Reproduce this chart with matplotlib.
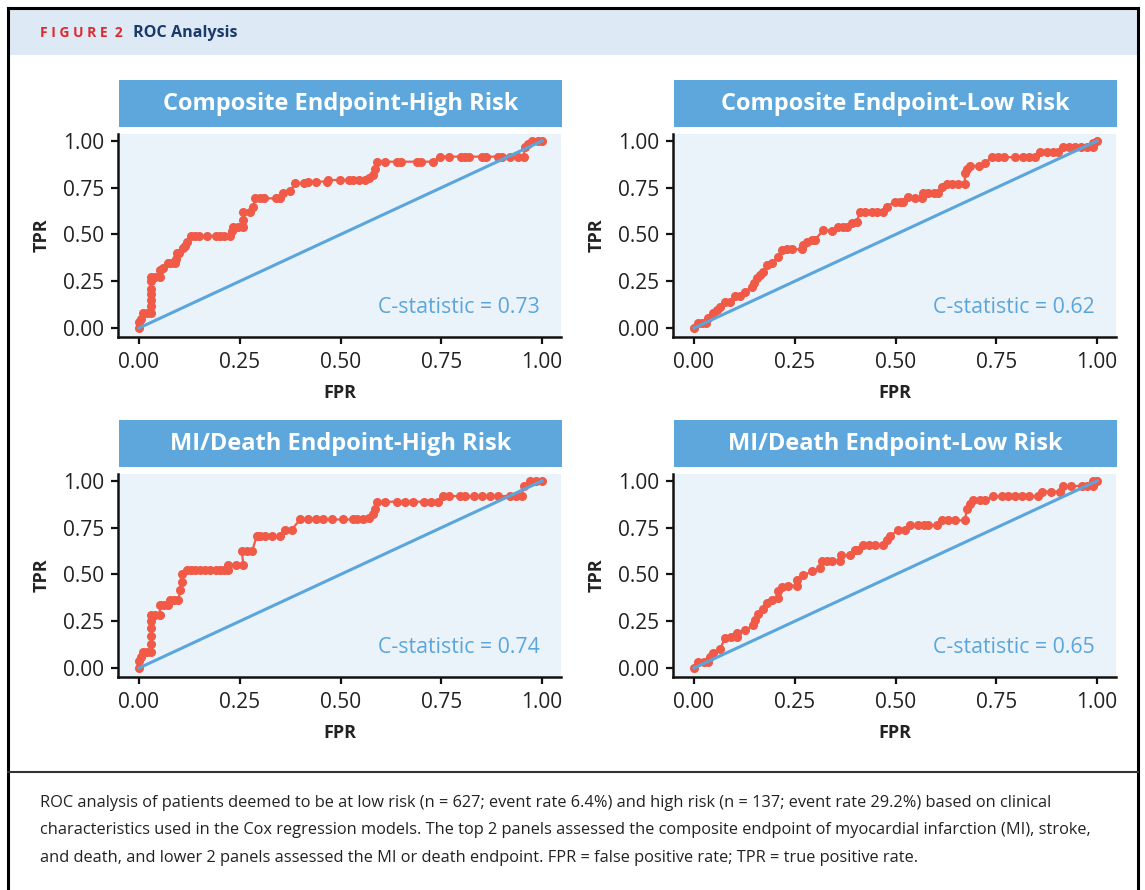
import matplotlib
matplotlib.use("Agg")
import matplotlib.pyplot as plt
from matplotlib.patches import Rectangle
from matplotlib.lines import Line2D

# ---------------- data ----------------
titles = ["Composite Endpoint-High Risk", "Composite Endpoint-Low Risk",
          "MI/Death Endpoint-High Risk", "MI/Death Endpoint-Low Risk"]
c_stats = ["C-statistic = 0.73", "C-statistic = 0.62",
           "C-statistic = 0.74", "C-statistic = 0.65"]
ticks = [0.0, 0.25, 0.5, 0.75, 1.0]
tick_labels = ["0.00", "0.25", "0.50", "0.75", "1.00"]

fpr_comp_high = [0, 0, 0.005, 0.011, 0.02, 0.031, 0.031, 0.031, 0.031, 0.031, 0.031, 0.031,
                 0.04, 0.052, 0.052, 0.06, 0.073, 0.08, 0.09, 0.093, 0.095, 0.10, 0.11, 0.115,
                 0.118, 0.13, 0.14, 0.15, 0.17, 0.19, 0.20, 0.21, 0.226, 0.23, 0.234, 0.245,
                 0.259, 0.259, 0.259, 0.275, 0.284, 0.288, 0.30, 0.31, 0.34, 0.35, 0.358, 0.375,
                 0.387, 0.41, 0.42, 0.44, 0.466, 0.47, 0.499, 0.52, 0.53, 0.545, 0.561, 0.57,
                 0.581, 0.585, 0.59, 0.61, 0.64, 0.65, 0.69, 0.70, 0.73, 0.747, 0.77, 0.80,
                 0.81, 0.82, 0.85, 0.86, 0.89, 0.90, 0.92, 0.94, 0.954, 0.958, 0.965, 0.974,
                 0.99, 1.0]
tpr_comp_high = [0, 0.034, 0.05, 0.078, 0.078, 0.078, 0.12, 0.15, 0.18, 0.21, 0.25, 0.275,
                 0.275, 0.275, 0.31, 0.32, 0.346, 0.346, 0.346, 0.37, 0.40, 0.40, 0.426, 0.44,
                 0.46, 0.492, 0.492, 0.492, 0.492, 0.492, 0.492, 0.492, 0.492, 0.52, 0.542, 0.542,
                 0.542, 0.58, 0.622, 0.622, 0.649, 0.693, 0.693, 0.693, 0.693, 0.693, 0.724, 0.73,
                 0.774, 0.774, 0.783, 0.783, 0.783, 0.791, 0.791, 0.791, 0.791, 0.791, 0.791, 0.80,
                 0.818, 0.85, 0.889, 0.889, 0.889, 0.889, 0.889, 0.889, 0.889, 0.916, 0.916, 0.916,
                 0.916, 0.916, 0.916, 0.916, 0.916, 0.916, 0.916, 0.916, 0.916, 0.97, 0.985, 1.0,
                 1.0, 1.0]

fpr_comp_low = [0, 0.011, 0.02, 0.031, 0.036, 0.048, 0.057, 0.065, 0.077, 0.09, 0.102, 0.115,
                0.127, 0.143, 0.15, 0.156, 0.165, 0.172, 0.18, 0.193, 0.209, 0.218, 0.23, 0.242,
                0.267, 0.271, 0.28, 0.292, 0.30, 0.321, 0.342, 0.358, 0.37, 0.379, 0.391, 0.404,
                0.412, 0.425, 0.441, 0.455, 0.47, 0.478, 0.499, 0.51, 0.519, 0.532, 0.548, 0.565,
                0.569, 0.58, 0.595, 0.606, 0.615, 0.627, 0.64, 0.655, 0.672, 0.672, 0.678, 0.685,
                0.706, 0.722, 0.739, 0.755, 0.77, 0.796, 0.817, 0.83, 0.846, 0.859, 0.875, 0.89,
                0.904, 0.916, 0.93, 0.945, 0.96, 0.975, 0.991, 0.991, 1.0]
tpr_comp_low = [0, 0.025, 0.025, 0.025, 0.052, 0.078, 0.095, 0.114, 0.141, 0.141, 0.171, 0.171,
                0.194, 0.221, 0.24, 0.266, 0.285, 0.301, 0.337, 0.346, 0.381, 0.417, 0.421, 0.421,
                0.421, 0.444, 0.46, 0.471, 0.471, 0.524, 0.52, 0.542, 0.542, 0.542, 0.56, 0.569,
                0.622, 0.622, 0.622, 0.622, 0.622, 0.649, 0.676, 0.676, 0.676, 0.702, 0.693, 0.693,
                0.724, 0.724, 0.724, 0.724, 0.756, 0.77, 0.77, 0.77, 0.77, 0.827, 0.85, 0.866,
                0.866, 0.881, 0.913, 0.913, 0.913, 0.913, 0.913, 0.913, 0.913, 0.943, 0.943, 0.943,
                0.943, 0.966, 0.966, 0.966, 0.966, 0.966, 0.966, 0.991, 1.0]

fpr_mi_high = [0, 0, 0.005, 0.011, 0.02, 0.031, 0.031, 0.031, 0.031, 0.031, 0.031, 0.04,
               0.052, 0.052, 0.062, 0.073, 0.077, 0.088, 0.098, 0.102, 0.106, 0.106, 0.118, 0.13,
               0.14, 0.151, 0.165, 0.176, 0.19, 0.20, 0.21, 0.222, 0.222, 0.24, 0.259, 0.255,
               0.268, 0.281, 0.292, 0.30, 0.313, 0.33, 0.35, 0.362, 0.379, 0.40, 0.42, 0.44,
               0.457, 0.48, 0.506, 0.53, 0.54, 0.557, 0.57, 0.581, 0.585, 0.59, 0.61, 0.639,
               0.66, 0.68, 0.706, 0.725, 0.743, 0.755, 0.77, 0.796, 0.81, 0.83, 0.85, 0.87,
               0.89, 0.921, 0.935, 0.95, 0.954, 0.97, 0.985, 1.0]
tpr_mi_high = [0, 0.036, 0.06, 0.086, 0.086, 0.086, 0.13, 0.17, 0.215, 0.25, 0.283, 0.283,
               0.283, 0.337, 0.337, 0.337, 0.364, 0.364, 0.364, 0.418, 0.462, 0.502, 0.525, 0.525,
               0.525, 0.525, 0.525, 0.525, 0.525, 0.525, 0.525, 0.525, 0.552, 0.552, 0.552, 0.627,
               0.627, 0.627, 0.704, 0.704, 0.704, 0.704, 0.704, 0.74, 0.74, 0.794, 0.794, 0.794,
               0.794, 0.794, 0.794, 0.794, 0.794, 0.794, 0.80, 0.821, 0.85, 0.889, 0.889, 0.889,
               0.889, 0.889, 0.889, 0.889, 0.889, 0.919, 0.919, 0.919, 0.919, 0.919, 0.919, 0.919,
               0.919, 0.919, 0.919, 0.919, 0.973, 1.0, 1.0, 1.0]

fpr_mi_low = [0, 0.011, 0.025, 0.036, 0.04, 0.048, 0.065, 0.077, 0.093, 0.106, 0.106, 0.127,
              0.147, 0.151, 0.16, 0.172, 0.18, 0.193, 0.209, 0.209, 0.218, 0.234, 0.255, 0.255,
              0.271, 0.292, 0.313, 0.317, 0.33, 0.342, 0.362, 0.366, 0.387, 0.40, 0.408, 0.42,
              0.435, 0.449, 0.47, 0.478, 0.486, 0.507, 0.524, 0.536, 0.557, 0.57, 0.581, 0.602,
              0.615, 0.63, 0.648, 0.672, 0.677, 0.685, 0.693, 0.71, 0.722, 0.743, 0.763, 0.78,
              0.796, 0.815, 0.83, 0.854, 0.863, 0.885, 0.908, 0.916, 0.935, 0.962, 0.975, 0.991,
              0.991, 1.0]
tpr_mi_low = [0, 0.032, 0.032, 0.032, 0.059, 0.082, 0.104, 0.158, 0.167, 0.167, 0.185, 0.203,
              0.229, 0.256, 0.287, 0.315, 0.346, 0.364, 0.373, 0.409, 0.435, 0.441, 0.441, 0.471,
              0.495, 0.516, 0.534, 0.57, 0.573, 0.573, 0.573, 0.602, 0.602, 0.633, 0.633, 0.656,
              0.656, 0.656, 0.656, 0.686, 0.704, 0.74, 0.74, 0.763, 0.763, 0.763, 0.763, 0.763,
              0.789, 0.789, 0.789, 0.789, 0.848, 0.878, 0.896, 0.896, 0.896, 0.919, 0.919, 0.919,
              0.919, 0.919, 0.919, 0.919, 0.943, 0.943, 0.943, 0.973, 0.973, 0.973, 0.973, 0.973,
              1.0, 1.0]

curves = [(fpr_comp_high, tpr_comp_high), (fpr_comp_low, tpr_comp_low),
          (fpr_mi_high, tpr_mi_high), (fpr_mi_low, tpr_mi_low)]

caption_lines = [
    "ROC analysis of patients deemed to be at low risk (n = 627; event rate 6.4%) and high risk (n = 137; event rate 29.2%) based on clinical",
    "characteristics used in the Cox regression models. The top 2 panels assessed the composite endpoint of myocardial infarction (MI), stroke,",
    "and death, and lower 2 panels assessed the MI or death endpoint. FPR = false positive rate; TPR = true positive rate.",
]

# ---------------- styling ----------------
FONT = "Open Sans"
plt.rcParams["font.family"] = [FONT, "DejaVu Sans"]
RED = "#f05a46"
BLUE = "#5aa6dc"
BOXBLUE = "#5ea7dc"
AXBG = "#eaf2fa"
TXT = "#222222"

W, H = 1145, 890
fig = plt.figure(figsize=(W / 100, H / 100), dpi=100)
fig.patch.set_facecolor("white")

def fx(px):
    return px / W

def fy(py):
    return 1 - py / H

# header band and frame
fig.add_artist(Rectangle((fx(8), fy(55)), fx(1130), 47 / H, transform=fig.transFigure,
                         facecolor="#dde9f5", edgecolor="none", zorder=0))
for (x0, y0, x1, y1) in [(8, 8, 8, 890), (1138, 8, 1138, 890), (8, 8, 1138, 8)]:
    fig.add_artist(Line2D([fx(x0), fx(x1)], [fy(y0), fy(y1)], transform=fig.transFigure,
                          color="black", lw=2.2))
fig.add_artist(Line2D([fx(8), fx(1138)], [fy(772), fy(772)], transform=fig.transFigure,
                      color="#333333", lw=1.5))

fig.text(fx(40), fy(33), "F I G U R E  2", color="#e0282e", fontsize=10, fontweight="bold",
         va="center", ha="left")
fig.text(fx(133), fy(33), "ROC Analysis", color="#1a3a6b", fontsize=11.6, fontweight="bold",
         va="center", ha="left")

# panels
lefts = [118, 673]
tops = [134, 474]
title_tops = [80, 420]
axw, axh = 443, 203

for i, (title, cs, (fp, tp)) in enumerate(zip(titles, c_stats, curves)):
    r, c = divmod(i, 2)
    L = lefts[c]
    T = tops[r]
    # title box
    fig.add_artist(Rectangle((fx(L + 1), fy(title_tops[r] + 47)), axw / W, 47 / H,
                             transform=fig.transFigure, facecolor=BOXBLUE, edgecolor="none"))
    fig.text(fx(L + 1 + axw / 2), fy(title_tops[r] + 23.5), title, color="white",
             fontsize=17, fontweight="bold", ha="center", va="center")

    ax = fig.add_axes([fx(L), fy(T + axh), axw / W, axh / H])
    ax.set_facecolor(AXBG)
    ax.plot(fp, tp, "-o", color=RED, lw=1.6, ms=5.5, zorder=2)
    ax.plot([0, 1], [0, 1], color=BLUE, lw=2.2, zorder=3)
    ax.set_xlim(-0.052, 1.047)
    ax.set_ylim(-0.048, 1.037)
    ax.set_xticks(ticks)
    ax.set_xticklabels(tick_labels)
    ax.set_yticks(ticks)
    ax.set_yticklabels(tick_labels)
    for s in ["top", "right"]:
        ax.spines[s].set_visible(False)
    for s in ["left", "bottom"]:
        ax.spines[s].set_linewidth(1.8)
        ax.spines[s].set_color("#111111")
    ax.tick_params(axis="both", length=5, width=1.6, color="#111111", labelsize=15,
                   labelcolor=TXT)
    ax.tick_params(axis="x", pad=6)
    ax.tick_params(axis="y", pad=5)
    ax.set_xlabel("FPR", fontsize=13, fontweight="bold", color=TXT, labelpad=8)
    ax.set_ylabel("TPR", fontsize=13, fontweight="bold", color=TXT, labelpad=9)
    ax.text(0.995, 0.11, cs, color=BLUE, fontsize=15.3, ha="right", va="center", zorder=4)

for k, line in enumerate(caption_lines):
    fig.text(fx(40), fy(803 + 27.5 * k), line, color=TXT, fontsize=11.8, ha="left", va="center")

fig.savefig("out.png", dpi=100, facecolor="white")
